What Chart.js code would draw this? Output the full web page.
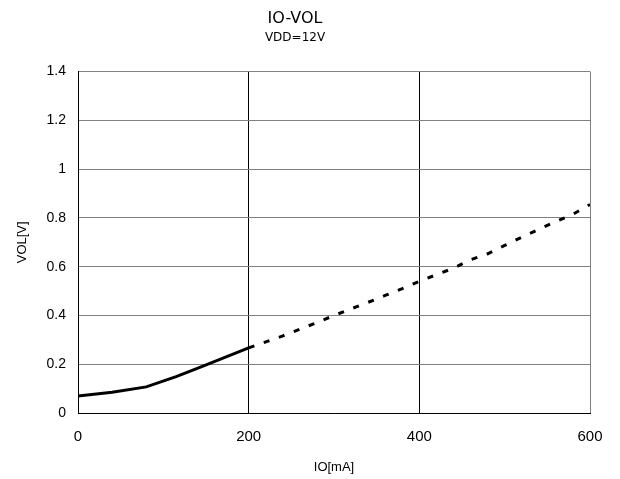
<!DOCTYPE html>
<html><head><meta charset="utf-8">
<script src="https://cdn.jsdelivr.net/npm/chart.js@4/dist/chart.umd.min.js"></script>
<style>html,body{margin:0;padding:0;background:#fff}canvas{display:block}</style>
</head><body>
<canvas id="c" width="620" height="479"></canvas>
<script>
const solidIO  = [0, 40, 80, 115, 145, 200];
const solidVOL = [0.07, 0.085, 0.107, 0.149, 0.19, 0.267];
const dashIO   = [200, 240, 280, 300, 340, 360, 380, 400, 440, 460, 480, 500, 520, 540, 560, 580, 600];
const dashVOL  = [0.267, 0.316, 0.371, 0.40, 0.454, 0.482, 0.51, 0.54, 0.594, 0.628, 0.653, 0.687, 0.721, 0.753, 0.785, 0.815, 0.855];
const xTicks = [0, 200, 400, 600];
const yTicks = [0, 0.2, 0.4, 0.6, 0.8, 1, 1.2, 1.4];

const pts = (xs, ys) => xs.map((x, i) => ({x, y: ys[i]}));
const sans = "'Liberation Sans', Arial, sans-serif";

new Chart(document.getElementById('c'), {
  type: 'scatter',
  data: {datasets: [
    {data: pts(solidIO, solidVOL), showLine: true, borderColor: '#000', borderWidth: 3, pointRadius: 0, tension: 0},
    {data: pts(dashIO, dashVOL), showLine: true, borderColor: '#000', borderWidth: 3, borderDash: [6, 10], pointRadius: 0, tension: 0}
  ]},
  options: {
    responsive: false, animation: false,
    layout: {padding: {left: 0, right: 30, top: 0, bottom: 0}},
    plugins: {
      legend: {display: false}, tooltip: {enabled: false},
      title: {display: true, text: 'IO-VOL', color: '#000',
        font: {family: "'DejaVu Sans', sans-serif", size: 16, weight: 'normal'}, padding: {top: 9, bottom: 2}},
      subtitle: {display: true, text: 'VDD=12V', color: '#000',
        font: {family: "'DejaVu Sans', sans-serif", size: 12, weight: 'normal'}, padding: {top: 0, bottom: 27}}
    },
    scales: {
      x: {type: 'linear', min: 0, max: 600,
        afterBuildTicks: s => { s.ticks = xTicks.map(v => ({value: v})); },
        afterFit: s => { s.height = 66; },
        ticks: {color: '#000', font: {family: sans, size: 15}, padding: 15, maxRotation: 0, callback: v => String(v)},
        grid: {color: c => c.tick.value === 600 ? '#808080' : '#000', lineWidth: 1, drawTicks: false},
        border: {display: true, color: '#000', width: 1},
        title: {display: true, text: 'IO[mA]', color: '#000', font: {family: sans, size: 13}, padding: {top: 6}}
      },
      y: {type: 'linear', min: 0, max: 1.4,
        afterBuildTicks: s => { s.ticks = yTicks.map(v => ({value: v})); },
        afterFit: s => { s.width = 78; },
        ticks: {color: '#000', font: {family: sans, size: 14}, padding: 12, callback: v => String(v)},
        grid: {color: '#808080', lineWidth: 1, drawTicks: false},
        border: {display: true, color: '#000', width: 1},
        title: {display: true, text: 'VOL[V]', color: '#000', font: {family: sans, size: 13}, padding: {top: 15, bottom: 0}}
      }
    }
  }
});
</script>
</body></html>
